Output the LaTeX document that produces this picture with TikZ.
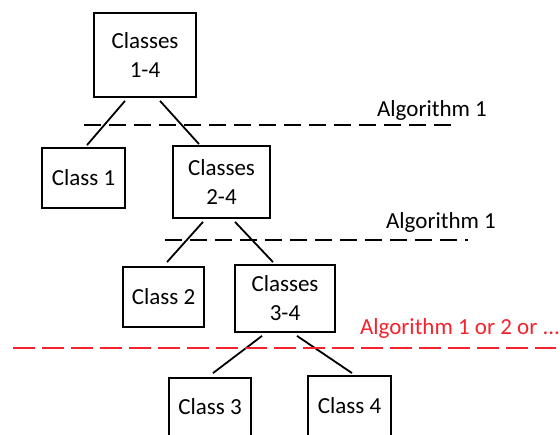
\documentclass[tikz,border=0pt]{standalone}
\usepackage{fontspec}
\setmainfont{Carlito}
\definecolor{algred}{RGB}{245,35,45}
\begin{document}
\begin{tikzpicture}[x=1pt,y=-1pt,
  box/.style={draw=black,line width=1.8pt,inner sep=0pt,align=center,
    font=\fontsize{23}{29}\selectfont},
  link/.style={line width=1.8pt},
  cut/.style={line width=1.8pt,dash pattern=on 17pt off 8pt},
  redcut/.style={line width=1.8pt,algred,dash pattern=on 22pt off 7pt},
  lbl/.style={inner sep=0pt,font=\fontsize{23}{29}\selectfont}]
\useasboundingbox (0,0) rectangle (560,435);
\clip (0,0) rectangle (560,435);
% boxes
\node[box,minimum width=102pt,minimum height=84pt] (c14) at (145,55) {Classes\\1-4};
\node[box,minimum width=83pt,minimum height=60pt] (c1) at (83.5,178) {Class 1};
\node[box,minimum width=97pt,minimum height=72pt] (c24) at (221.5,182) {Classes\\2-4};
\node[box,minimum width=81pt,minimum height=60pt] (c2) at (163.5,297) {Class 2};
\node[box,minimum width=100pt,minimum height=67pt] (c34) at (285,298.5) {Classes\\3-4};
\node[box,minimum width=82pt,minimum height=58pt] (c3) at (210,407) {Class 3};
\node[box,minimum width=83pt,minimum height=60pt] (c4) at (349.5,406) {Class 4};
% connectors
\draw[link] ([xshift=-20pt,yshift=-3pt]c14.south) -- ([xshift=3.5pt,yshift=2pt]c1.north);
\draw[link] ([xshift=15pt,yshift=-3pt]c14.south) -- ([xshift=-22.5pt,yshift=1pt]c24.north);
\draw[link] ([xshift=-18.5pt,yshift=-3pt]c24.south) -- ([xshift=3.5pt,yshift=4pt]c2.north);
\draw[link] ([xshift=13.5pt,yshift=-3pt]c24.south) -- ([xshift=-12pt,yshift=2pt]c34.north);
\draw[link] ([xshift=-23pt,yshift=-3pt]c34.south) -- ([xshift=3pt,yshift=4pt]c3.north);
\draw[link] ([xshift=12pt,yshift=-3pt]c34.south) -- ([xshift=2.5pt,yshift=2pt]c4.north);
% dashed cut lines
\coordinate (d1a) at (84,125); \coordinate (d1b) at (455,125);
\coordinate (d2a) at (165,240); \coordinate (d2b) at (468,240);
\coordinate (d3a) at (13,348); \coordinate (d3b) at (556,348);
\draw[cut] (d1a) -- (d1b);
\draw[cut] (d2a) -- (d2b);
\draw[redcut] (d3a) -- (d3b);
% labels
\node[lbl] (a1) at (432,110) {Algorithm 1};
\node[lbl] (a2) at (441,222) {Algorithm 1};
\node[lbl,text=algred] (a3) at (460,328) {Algorithm 1 or 2 or ...};
\end{tikzpicture}
\end{document}
